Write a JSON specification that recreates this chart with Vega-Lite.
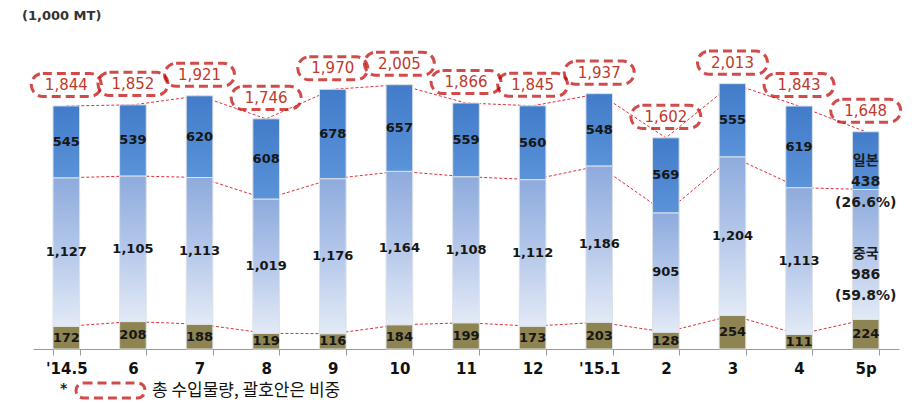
{
  "$schema": "https://vega.github.io/schema/vega-lite/v6.json",
  "autosize": {"type": "none"},
  "width": 866,
  "height": 319,
  "padding": {"left": 33, "top": 30, "right": 17, "bottom": 54},
  "background": "white",
  "config": {"view": {"stroke": null}},
  "title": {"text": "(1,000 MT)", "anchor": "start", "frame": "group", "dx": -11, "offset": 7, "font": "DejaVu Sans", "fontSize": 13, "fontWeight": "bold", "color": "#333333"},
  "datasets": {
    "totals": [
      {"month": "'14.5", "total": 1844},
      {"month": "6", "total": 1852},
      {"month": "7", "total": 1921},
      {"month": "8", "total": 1746},
      {"month": "9", "total": 1970},
      {"month": "10", "total": 2005},
      {"month": "11", "total": 1866},
      {"month": "12", "total": 1845},
      {"month": "'15.1", "total": 1937},
      {"month": "2", "total": 1602},
      {"month": "3", "total": 2013},
      {"month": "4", "total": 1843},
      {"month": "5p", "total": 1648}
    ]
  },
  "data": {"values": [
    {"month": "'14.5", "series": "기타", "value": 172, "label": "172"},
    {"month": "'14.5", "series": "중국", "value": 1127, "label": "1,127"},
    {"month": "'14.5", "series": "일본", "value": 545, "label": "545"},
    {"month": "6", "series": "기타", "value": 208, "label": "208"},
    {"month": "6", "series": "중국", "value": 1105, "label": "1,105"},
    {"month": "6", "series": "일본", "value": 539, "label": "539"},
    {"month": "7", "series": "기타", "value": 188, "label": "188"},
    {"month": "7", "series": "중국", "value": 1113, "label": "1,113"},
    {"month": "7", "series": "일본", "value": 620, "label": "620"},
    {"month": "8", "series": "기타", "value": 119, "label": "119"},
    {"month": "8", "series": "중국", "value": 1019, "label": "1,019"},
    {"month": "8", "series": "일본", "value": 608, "label": "608"},
    {"month": "9", "series": "기타", "value": 116, "label": "116"},
    {"month": "9", "series": "중국", "value": 1176, "label": "1,176"},
    {"month": "9", "series": "일본", "value": 678, "label": "678"},
    {"month": "10", "series": "기타", "value": 184, "label": "184"},
    {"month": "10", "series": "중국", "value": 1164, "label": "1,164"},
    {"month": "10", "series": "일본", "value": 657, "label": "657"},
    {"month": "11", "series": "기타", "value": 199, "label": "199"},
    {"month": "11", "series": "중국", "value": 1108, "label": "1,108"},
    {"month": "11", "series": "일본", "value": 559, "label": "559"},
    {"month": "12", "series": "기타", "value": 173, "label": "173"},
    {"month": "12", "series": "중국", "value": 1112, "label": "1,112"},
    {"month": "12", "series": "일본", "value": 560, "label": "560"},
    {"month": "'15.1", "series": "기타", "value": 203, "label": "203"},
    {"month": "'15.1", "series": "중국", "value": 1186, "label": "1,186"},
    {"month": "'15.1", "series": "일본", "value": 548, "label": "548"},
    {"month": "2", "series": "기타", "value": 128, "label": "128"},
    {"month": "2", "series": "중국", "value": 905, "label": "905"},
    {"month": "2", "series": "일본", "value": 569, "label": "569"},
    {"month": "3", "series": "기타", "value": 254, "label": "254"},
    {"month": "3", "series": "중국", "value": 1204, "label": "1,204"},
    {"month": "3", "series": "일본", "value": 555, "label": "555"},
    {"month": "4", "series": "기타", "value": 111, "label": "111"},
    {"month": "4", "series": "중국", "value": 1113, "label": "1,113"},
    {"month": "4", "series": "일본", "value": 619, "label": "619"},
    {"month": "5p", "series": "기타", "value": 224, "label": "224"},
    {"month": "5p", "series": "중국", "value": 986, "label": "중국\n986\n(59.8%)"},
    {"month": "5p", "series": "일본", "value": 438, "label": "일본\n438\n(26.6%)"}
  ]},
  "transform": [
    {"stack": "value", "groupby": ["month"], "as": ["v0", "v1"]},
    {"calculate": "(datum.v0 + datum.v1) / 2", "as": "mid"}
  ],
  "encoding": {
    "x": {
      "field": "month", "type": "nominal", "sort": null,
      "scale": {"paddingInner": 0.6, "paddingOuter": 0.3},
      "axis": {
        "title": null, "labelAngle": 0, "tickBand": "extent",
        "domainColor": "#9a9a9a", "tickColor": "#9a9a9a", "tickSize": 6,
        "labelFont": "DejaVu Sans", "labelFontSize": 15, "labelFontWeight": "bold",
        "labelColor": "#111111", "labelPadding": 6
      }
    }
  },
  "layer": [
    {
      "mark": {"type": "line", "color": "#e0303a", "strokeWidth": 1, "strokeDash": [3, 2]},
      "encoding": {
        "y": {"field": "v1", "type": "quantitative", "scale": {"domain": [0, 2420], "nice": false}, "axis": null},
        "detail": {"field": "series"}
      }
    },
    {
      "transform": [{"filter": "datum.series === '기타'"}],
      "mark": {"type": "bar", "color": "#8e8452", "stroke": "#dde2e8", "strokeWidth": 1},
      "encoding": {
        "y": {"field": "v1", "type": "quantitative"},
        "y2": {"field": "v0"}
      }
    },
    {
      "transform": [{"filter": "datum.series === '중국'"}],
      "mark": {"type": "bar", "stroke": "#dde2e8", "strokeWidth": 1,
        "color": {"gradient": "linear", "x1": 0, "y1": 0, "x2": 0, "y2": 1,
          "stops": [{"offset": 0, "color": "#8eabdd"}, {"offset": 0.5, "color": "#b5c8ea"}, {"offset": 1, "color": "#e3eaf6"}]}},
      "encoding": {
        "y": {"field": "v1", "type": "quantitative"},
        "y2": {"field": "v0"}
      }
    },
    {
      "transform": [{"filter": "datum.series === '일본'"}],
      "mark": {"type": "bar", "stroke": "#dde2e8", "strokeWidth": 1,
        "color": {"gradient": "linear", "x1": 0, "y1": 0, "x2": 0, "y2": 1,
          "stops": [{"offset": 0, "color": "#427bc9"}, {"offset": 1, "color": "#5a93d8"}]}},
      "encoding": {
        "y": {"field": "v1", "type": "quantitative"},
        "y2": {"field": "v0"}
      }
    },
    {
      "transform": [{"filter": "datum.month !== '5p' || datum.series === '기타'"}],
      "mark": {"type": "text", "font": "DejaVu Sans", "fontSize": 13, "fontWeight": "bold", "color": "#161616", "baseline": "middle"},
      "encoding": {
        "y": {"field": "mid", "type": "quantitative"},
        "text": {"field": "label"}
      }
    },
    {
      "transform": [{"filter": "datum.month === '5p' && datum.series !== '기타'"}],
      "mark": {"type": "text", "font": "DejaVu Sans, Noto Sans CJK KR", "fontSize": 14, "fontWeight": "bold", "color": "#1c1c1c", "lineBreak": "\n", "lineHeight": 21, "baseline": "middle"},
      "encoding": {
        "y": {"field": "mid", "type": "quantitative"},
        "text": {"field": "label"}
      }
    },
    {
      "data": {"name": "totals"},
      "mark": {"type": "point", "filled": false, "strokeWidth": 3, "strokeDash": [9, 5], "size": 4900, "yOffset": -21,
        "shape": "M -0.67,-0.33 L 0.67,-0.33 A 0.33,0.33 0 0 1 0.67,0.33 L -0.67,0.33 A 0.33,0.33 0 0 1 -0.67,-0.33 Z"},
      "encoding": {
        "x": {"field": "month", "type": "nominal", "sort": null},
        "y": {"field": "total", "type": "quantitative"},
        "stroke": {
          "datum": "총 수입물량, 괄호안은 비중",
          "scale": {"range": ["#c00000"]},
          "legend": {
            "orient": "none", "legendX": 27, "legendY": 344,
            "title": "*", "titleOrient": "left", "titleFont": "DejaVu Sans", "titleFontSize": 14, "titleFontWeight": "bold", "titleColor": "#222222", "titlePadding": 26,
            "titleBaseline": "middle", "titleAnchor": "middle",
            "symbolType": "M -1.8,-0.5 L 1.8,-0.5 A 0.5,0.5 0 0 1 1.8,0.5 L -1.8,0.5 A 0.5,0.5 0 0 1 -1.8,-0.5 Z",
            "symbolSize": 900, "symbolStrokeWidth": 3, "symbolDash": [9, 5], "symbolFillColor": "transparent", "symbolStrokeColor": "#c00000",
            "labelFont": "Noto Sans CJK KR", "labelFontSize": 17, "labelColor": "#111111", "labelOffset": 25, "labelLimit": 500
          }
        }
      }
    },
    {
      "data": {"name": "totals"},
      "mark": {"type": "text", "font": "DejaVu Sans", "fontSize": 15, "color": "#c0392b", "yOffset": -21, "baseline": "middle"},
      "encoding": {
        "x": {"field": "month", "type": "nominal", "sort": null},
        "y": {"field": "total", "type": "quantitative"},
        "text": {"field": "total", "type": "quantitative", "format": ","}
      }
    }
  ]
}
